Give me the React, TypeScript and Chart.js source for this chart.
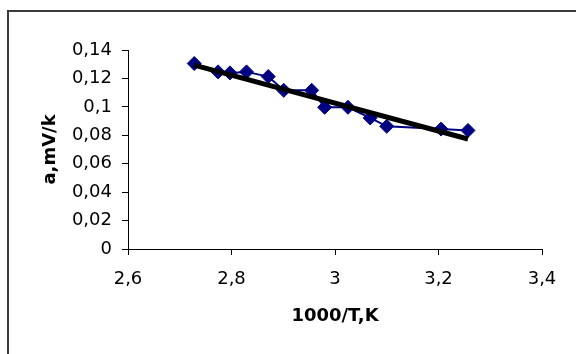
import React, { useEffect, useRef } from "react";
import { Chart, registerables } from "chart.js";

Chart.register(...registerables);

const xValues = [2.728, 2.774, 2.797, 2.829, 2.871, 2.901, 2.955, 2.98, 3.025, 3.068, 3.1, 3.205, 3.257];
const yValues = [0.1305, 0.1246, 0.1239, 0.1246, 0.1213, 0.1116, 0.1116, 0.0997, 0.0997, 0.0922, 0.0863, 0.0844, 0.0834];
const trendX = [2.728, 3.257];
const trendY = [0.1293, 0.0774];
const xTickLabels = ["2,6", "2,8", "3", "3,2", "3,4"];
const yTickLabels = ["0", "0,02", "0,04", "0,06", "0,08", "0,1", "0,12", "0,14"];
const xTitle = "1000/T,K";
const yTitle = "a,mV/k";

const FONT = "'DejaVu Sans', sans-serif";

const framePlugin = {
  id: "frame",
  beforeDraw(chart: any) {
    const ctx = chart.ctx;
    ctx.save();
    ctx.fillStyle = "#ffffff";
    ctx.fillRect(0, 0, chart.width, chart.height);
    ctx.strokeStyle = "#3c3c3c";
    ctx.lineWidth = 2;
    ctx.beginPath();
    ctx.moveTo(8, chart.height);
    ctx.lineTo(8, 11);
    ctx.lineTo(chart.width, 11);
    ctx.stroke();
    ctx.restore();
  },
};

export default function App() {
  const ref = useRef<HTMLCanvasElement | null>(null);
  useEffect(() => {
    if (!ref.current) return;
    const chart = new Chart(ref.current, {
      type: "scatter",
      data: {
        datasets: [
          {
            label: "trend",
            data: trendX.map((x, i) => ({ x, y: trendY[i] })),
            showLine: true,
            borderColor: "#000000",
            borderWidth: 5,
            pointRadius: 0,
            order: 0,
          },
          {
            label: "data",
            data: xValues.map((x, i) => ({ x, y: yValues[i] })),
            showLine: true,
            borderColor: "#000080",
            borderWidth: 2,
            backgroundColor: "#000080",
            pointStyle: "rectRot",
            pointRadius: 7,
            pointBorderWidth: 1,
            pointBorderColor: "#000080",
            pointBackgroundColor: "#000080",
            order: 1,
          },
        ],
      },
      options: {
        responsive: false,
        animation: false,
        events: [],
        layout: { padding: { left: 0, top: 50, right: 34, bottom: 0 } },
        plugins: { legend: { display: false }, tooltip: { enabled: false } },
        scales: {
          x: {
            type: "linear",
            min: 2.6,
            max: 3.4,
            afterFit: (s: any) => {
              s.height = 105;
            },
            afterBuildTicks: (s: any) => {
              s.ticks = xTickLabels.map((_, i) => ({ value: 2.6 + i * 0.2 }));
            },
            ticks: {
              color: "#000",
              font: { family: FONT, size: 18 },
              padding: 14,
              maxRotation: 0,
              autoSkip: false,
              callback: (_v: any, i: number) => xTickLabels[i],
            },
            grid: { display: true, drawOnChartArea: false, color: "#000", tickLength: 6, tickWidth: 1 },
            border: { display: true, color: "#000", width: 1 },
            title: {
              display: true,
              text: xTitle,
              color: "#000",
              font: { family: FONT, size: 18, weight: "bold", lineHeight: 1.2 },
              padding: { top: 0, bottom: 26.5 },
            },
          },
          y: {
            type: "linear",
            min: 0,
            max: 0.14,
            afterFit: (s: any) => {
              s.width = 128;
            },
            afterBuildTicks: (s: any) => {
              s.ticks = yTickLabels.map((_, i) => ({ value: i * 0.02 }));
            },
            ticks: {
              color: "#000",
              font: { family: FONT, size: 18 },
              padding: 10,
              autoSkip: false,
              callback: (_v: any, i: number) => yTickLabels[i],
            },
            grid: { display: true, drawOnChartArea: false, color: "#000", tickLength: 6, tickWidth: 1 },
            border: { display: true, color: "#000", width: 1 },
            title: {
              display: true,
              text: yTitle,
              color: "#000",
              font: { family: FONT, size: 18, weight: "bold", lineHeight: 1.2 },
              padding: { top: 40, bottom: 0 },
            },
          },
        },
      },
      plugins: [framePlugin],
    });
    return () => chart.destroy();
  }, []);
  return (
    <div style={{ position: "absolute", left: 0, top: 0, width: 576, height: 354, overflow: "hidden", background: "#fff" }}>
      <canvas ref={ref} width={576} height={354} style={{ display: "block" }} />
    </div>
  );
}
